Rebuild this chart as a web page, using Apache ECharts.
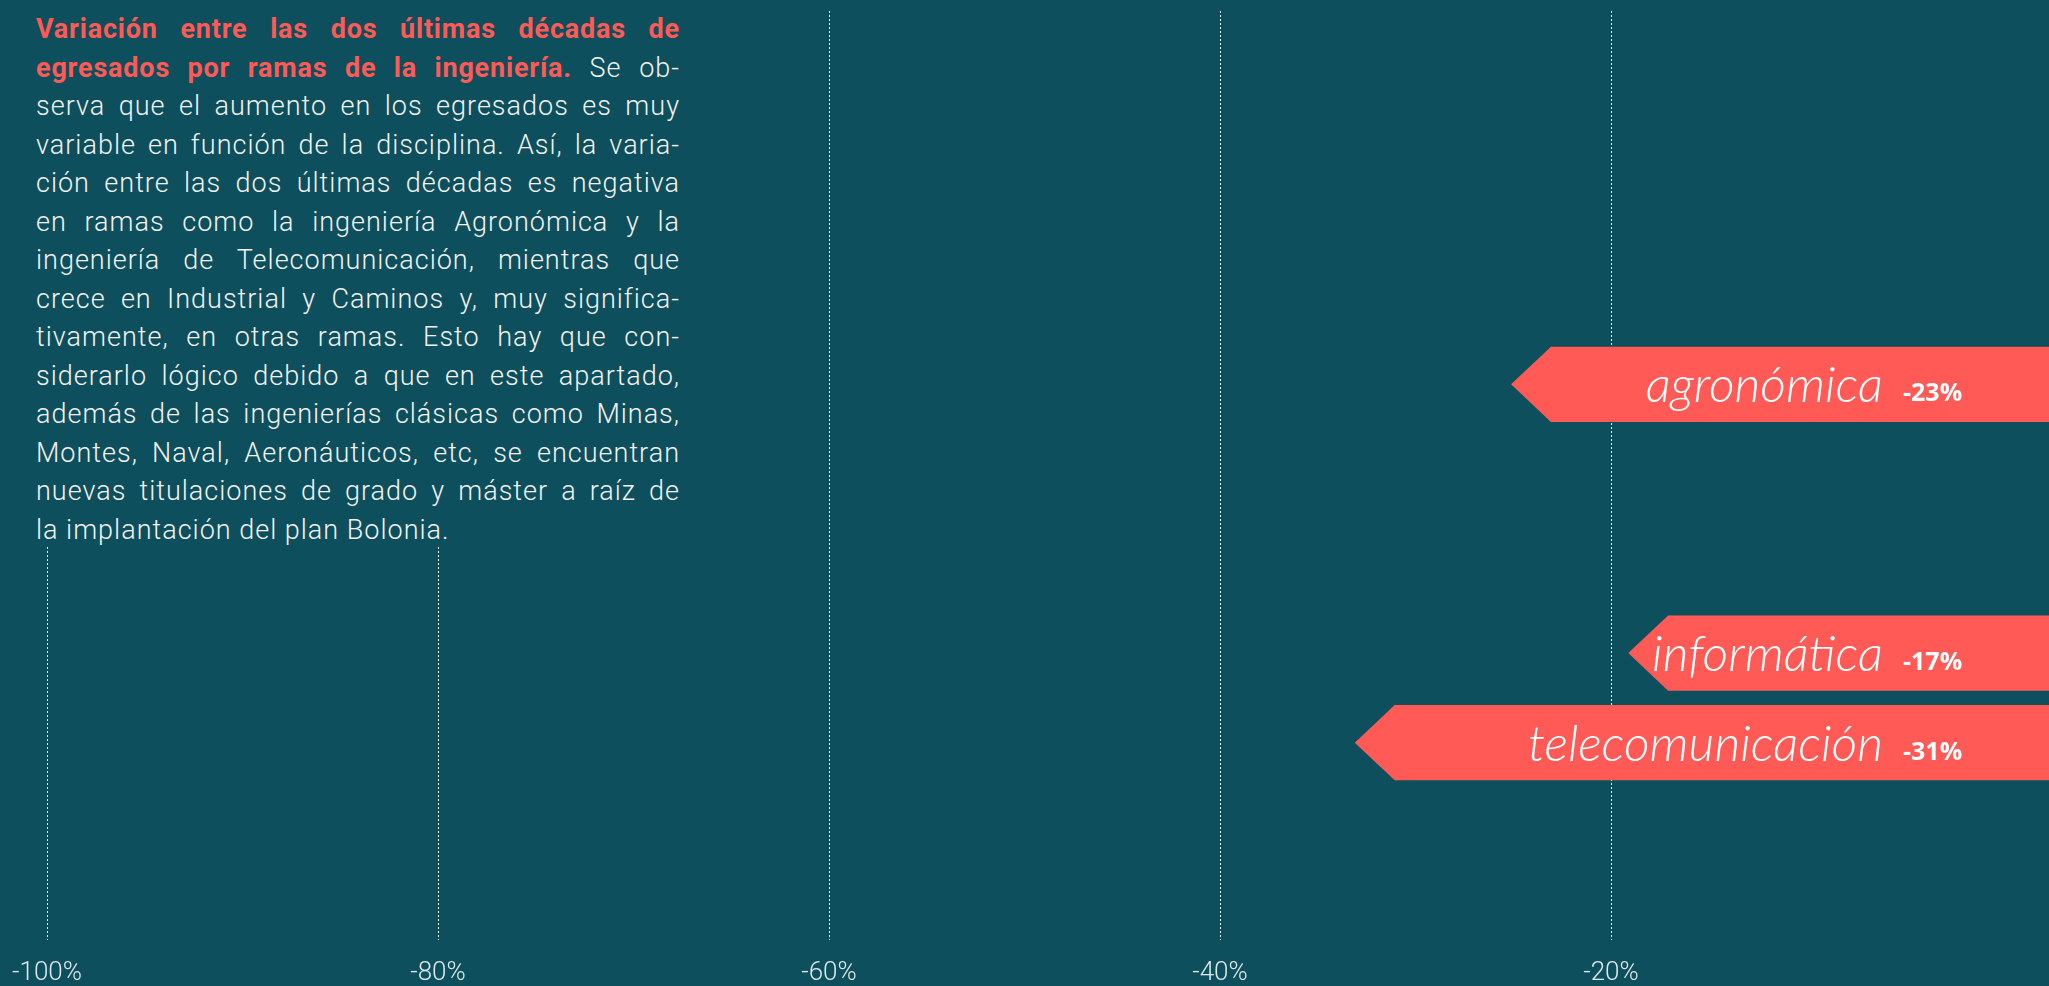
<!DOCTYPE html>
<html>
<head>
<meta charset="utf-8">
<script src="https://cdn.jsdelivr.net/npm/echarts@6/dist/echarts.min.js"></script>
<style>
  html, body { margin: 0; padding: 0; background: #0d4f5c; }
  #chart { position: absolute; left: 0; top: 0; width: 2049px; height: 986px; }
  #note {
    position: absolute; left: 0; top: 0; height: 546px; width: 700px;
    box-sizing: border-box; padding: 10px 0 0 36px;
    background: #0d4f5c; color: #f2f2f2;
    font-family: Roboto, sans-serif; font-weight: 300; font-size: 27px;
    line-height: 38.5px; letter-spacing: 1px;
  }
  #note .l { width: 644px; text-align: justify; text-align-last: justify; }
  #note .l.last { text-align-last: left; }
  #note b { color: #ff5a55; font-weight: 700; letter-spacing: 0.8px; }
</style>
</head>
<body>
<div id="chart"></div>
<div id="note">
  <div class="l"><b>Variación entre las dos últimas décadas de</b></div>
  <div class="l"><b>egresados por ramas de la ingeniería.</b> Se ob-</div>
  <div class="l">serva que el aumento en los egresados es muy</div>
  <div class="l">variable en función de la disciplina. Así, la varia-</div>
  <div class="l">ción entre las dos últimas décadas es negativa</div>
  <div class="l">en ramas como la ingeniería Agronómica y la</div>
  <div class="l">ingeniería de Telecomunicación, mientras que</div>
  <div class="l">crece en Industrial y Caminos y, muy significa-</div>
  <div class="l">tivamente, en otras ramas. Esto hay que con-</div>
  <div class="l">siderarlo lógico debido a que en este apartado,</div>
  <div class="l">además de las ingenierías clásicas como Minas,</div>
  <div class="l">Montes, Naval, Aeronáuticos, etc, se encuentran</div>
  <div class="l">nuevas titulaciones de grado y máster a raíz de</div>
  <div class="l last">la implantación del plan Bolonia.</div>
</div>
<script>
// Variation of engineering graduates between the last two decades, per branch.
// Only the negative branches are visible; positive ones sit off to the right.

const categories = ['agronómica', 'caminos', 'industrial', 'informática', 'telecomunicación'];
const values = [-23, null, null, -17, -31];
const X_MIN = -100;      // first tick
const X_LAST_TICK = -20; // last labelled tick
const X_STEP = 20;
const X_MAX = 2.5;       // bars run out to the right edge

const BG = '#0d4f5c';
const BAR = '#ff5a56';

const chart = echarts.init(document.getElementById('chart'));

function fmtPct(v) {
  return v + '%';
}

function renderArrow(params, api) {
  const v = api.value(1);
  if (v === null || v === undefined || isNaN(v)) return;
  const idx = api.value(0);
  const start = api.coord([v, idx]);
  const end = api.coord([X_MAX, idx]);
  const band = api.size([0, 1])[1];
  const h = band * 0.84;
  const cy = start[1];
  const top = cy - h / 2;
  const bot = cy + h / 2;
  const head = h * 0.53;
  return {
    type: 'group',
    children: [
      {
        type: 'polygon',
        shape: { points: [[start[0] - head, cy], [start[0], top], [end[0], top], [end[0], bot], [start[0], bot]] },
        style: { fill: BAR },
      },
      {
        type: 'text',
        style: {
          text: categories[idx], x: end[0] - 166, y: cy + 2,
          align: 'right', verticalAlign: 'middle', fill: '#ffffff',
          font: 'italic 300 50px Lato',
        },
      },
      {
        type: 'text',
        style: {
          text: fmtPct(v), x: end[0] - 146, y: cy + 10,
          align: 'left', verticalAlign: 'middle', fill: '#ffffff',
          font: '700 25px "Open Sans"',
        },
      },
    ],
  };
}

chart.setOption({
  backgroundColor: BG,
  animation: false,
  grid: [
    { left: 47, right: 438, top: 11, bottom: 45 },
    { left: 47, right: 0, top: 339.5, bottom: 198.5 },
  ],
  xAxis: [
    {
      gridIndex: 0, type: 'value', min: X_MIN, max: X_LAST_TICK, interval: X_STEP,
      axisLine: { show: false }, axisTick: { show: false },
      splitLine: { show: true, lineStyle: { type: [2, 2], color: '#eef5f6', width: 1 } },
      axisLabel: {
        formatter: '{value}%', color: '#dce9eb', fontFamily: 'Roboto', fontWeight: 300,
        fontSize: 26, margin: 20,
      },
    },
    { gridIndex: 1, type: 'value', min: X_MIN, max: X_MAX, show: false },
  ],
  yAxis: [
    { gridIndex: 0, type: 'value', min: 0, max: 1, show: false },
    { gridIndex: 1, type: 'category', data: categories, inverse: true, show: false },
  ],
  series: [
    {
      type: 'custom',
      xAxisIndex: 1,
      yAxisIndex: 1,
      renderItem: renderArrow,
      encode: { x: 1, y: 0 },
      data: categories.map((c, i) => [i, values[i]]),
    },
  ],
});

window.addEventListener('resize', () => chart.resize());
</script>
</body>
</html>
